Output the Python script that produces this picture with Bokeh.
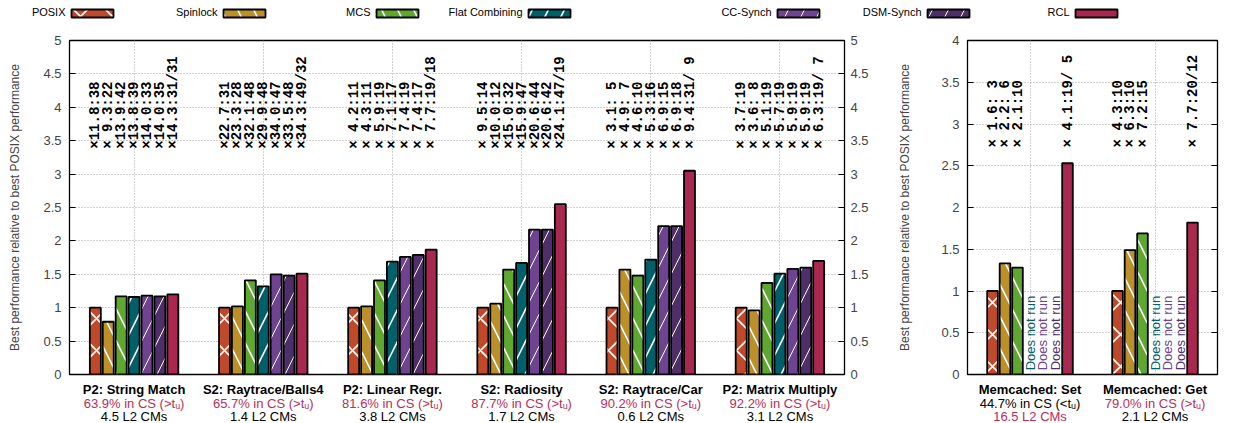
import numpy as np
from bokeh.plotting import figure
from bokeh.models import (Range1d, LinearAxis, FixedTicker, CustomJSTickFormatter)
from bokeh.layouts import column, row
from bokeh.core.properties import value
from bokeh.embed import file_html
from bokeh.resources import INLINE

# ---------------- data ----------------
series = ["POSIX", "Spinlock", "MCS", "Flat Combining", "CC-Synch", "DSM-Synch", "RCL"]
colors = ["#bf4a2b", "#bb8f2a", "#5fa82f", "#00606a", "#6f4391", "#4f2f69", "#a9284f"]
hatches = ["x", "\\", "\\", "/", "/", "/", None]
hatch_w = [1.6, 1.6, 1.6, 1.6, 1.0, 1.0, 0]
CRIMSON = "#b82d5a"

left_groups = ["P2: String Match", "S2: Raytrace/Balls4", "P2: Linear Regr.",
               "S2: Radiosity", "S2: Raytrace/Car", "P2: Matrix Multiply"]
left_cs = ["63.9% in CS (>tᵤ)", "65.7% in CS (>tᵤ)", "81.6% in CS (>tᵤ)",
           "87.7% in CS (>tᵤ)", "90.2% in CS (>tᵤ)", "92.2% in CS (>tᵤ)"]
left_cm = ["4.5 L2 CMs", "1.4 L2 CMs", "3.8 L2 CMs", "1.7 L2 CMs", "0.6 L2 CMs", "3.1 L2 CMs"]
left_cs_color = [CRIMSON] * 6
left_cm_color = ["black"] * 6

posix_l = [1.00, 1.00, 1.00, 1.00, 1.00, 1.00]
spin_l = [0.79, 1.02, 1.02, 1.06, 1.57, 0.96]
mcs_l = [1.17, 1.41, 1.41, 1.57, 1.48, 1.37]
fc_l = [1.16, 1.32, 1.69, 1.67, 1.72, 1.51]
cc_l = [1.18, 1.50, 1.76, 2.17, 2.22, 1.58]
dsm_l = [1.17, 1.48, 1.79, 2.17, 2.22, 1.60]
rcl_l = [1.20, 1.51, 1.87, 2.55, 3.05, 1.70]

ann_posix_l = ["×11.8:38", "×22.7:31", "× 4.2:11", "× 9.5:14", "× 3.1: 5", "× 3.7:19"]
ann_spin_l = ["× 9.3:22", "×23.3:28", "× 4.3:11", "×10.0:12", "× 4.9: 7", "× 3.6: 8"]
ann_mcs_l = ["×13.9:42", "×32.1:48", "× 5.9:19", "×15.0:32", "× 4.6:10", "× 5.1:19"]
ann_fc_l = ["×13.8:39", "×29.9:48", "× 7.1:17", "×15.9:47", "× 5.3:16", "× 5.7:19"]
ann_cc_l = ["×14.0:33", "×34.0:47", "× 7.4:19", "×20.6:44", "× 6.9:15", "× 5.9:19"]
ann_dsm_l = ["×14.0:35", "×33.5:48", "× 7.4:17", "×20.6:42", "× 6.9:18", "× 5.9:19"]
ann_rcl_l = ["×14.3:31/31", "×34.3:49/32", "× 7.7:19/18", "×24.1:47/19", "× 9.4:31/ 9", "× 6.3:19/ 7"]

right_groups = ["Memcached: Set", "Memcached: Get"]
right_cs = ["44.7% in CS (<tᵤ)", "79.0% in CS (>tᵤ)"]
right_cm = ["16.5 L2 CMs", "2.1 L2 CMs"]
right_cs_color = ["black", CRIMSON]
right_cm_color = [CRIMSON, "black"]

posix_r = [1.00, 1.00]
spin_r = [1.33, 1.49]
mcs_r = [1.28, 1.69]
fc_r = [None, None]
cc_r = [None, None]
dsm_r = [None, None]
rcl_r = [2.53, 1.82]

ann_posix_r = ["× 1.6: 3", "× 4.3:10"]
ann_spin_r = ["× 2.2: 6", "× 6.3:10"]
ann_mcs_r = ["× 2.1:10", "× 7.2:15"]
ann_fc_r = [None, None]
ann_cc_r = [None, None]
ann_dsm_r = [None, None]
ann_rcl_r = ["× 4.1:19/ 5", "× 7.7:20/12"]

not_run_text = "Does not run"
y_label = "Best performance relative to best POSIX performance"

left_vals = [posix_l, spin_l, mcs_l, fc_l, cc_l, dsm_l, rcl_l]
left_anns = [ann_posix_l, ann_spin_l, ann_mcs_l, ann_fc_l, ann_cc_l, ann_dsm_l, ann_rcl_l]
right_vals = [posix_r, spin_r, mcs_r, fc_r, cc_r, dsm_r, rcl_r]
right_anns = [ann_posix_r, ann_spin_r, ann_mcs_r, ann_fc_r, ann_cc_r, ann_dsm_r, ann_rcl_r]

# ---------------- style / layout constants ----------------
SANS = "Liberation Sans"
MONO = "Liberation Mono"
PITCH = 0.1
BAR_W = 0.085
GRID_COLOR = "#a0a0a0"
CHART_BOTTOM = 8
CHART_H = 10 + 334 + CHART_BOTTOM
LEG_H = 30
LABEL_H = 423 - LEG_H - CHART_H
LEG_SWATCH_RIGHT = [113, 265, 418, 570, 819, 969, 1117]
LABEL_LINE_Y = [7, 20.5, 33.5]


def make_chart(groups, vals, anns, cs, cs_col, cm, cm_col, ymax, ann_y, width,
               border_left, border_right, right_labels, label_standoff):
    n = len(groups)
    xr = Range1d(-0.5, n - 0.5)
    p = figure(width=width, height=CHART_H, x_range=xr,
               y_range=Range1d(0, ymax), toolbar_location=None, output_backend="svg",
               min_border_left=border_left, min_border_right=border_right,
               min_border_top=10, min_border_bottom=CHART_BOTTOM)
    p.background_fill_color = "white"
    p.border_fill_color = "white"
    p.outline_line_color = "black"
    p.outline_line_width = 1.3
    p.xaxis.visible = False
    ticks = [i * 0.5 for i in range(int(ymax * 2) + 1)]
    fmt = CustomJSTickFormatter(code="return String(Math.round(tick*10)/10);")
    p.xgrid.ticker = FixedTicker(ticks=list(range(n)))
    p.ygrid.ticker = FixedTicker(ticks=ticks)
    for g in (p.xgrid, p.ygrid):
        g.grid_line_color = GRID_COLOR
        g.grid_line_dash = "1 2"
        g.grid_line_width = 1

    ax = p.yaxis[0]
    ax.ticker = FixedTicker(ticks=ticks)
    ax.formatter = fmt
    ax.axis_label = y_label
    ax.axis_label_text_font = SANS
    ax.axis_label_text_font_style = "normal"
    ax.axis_label_text_font_size = "12px"
    ax.axis_label_standoff = label_standoff
    ax.major_label_text_font = SANS
    ax.major_label_text_font_size = "13px"
    ax.major_label_standoff = 8
    ax.major_tick_in = 6
    ax.major_tick_out = 0
    ax.minor_tick_line_color = None
    ax.axis_line_color = "black"

    rfmt = fmt if right_labels else CustomJSTickFormatter(code="return '';")
    rax = LinearAxis(ticker=FixedTicker(ticks=ticks), formatter=rfmt)
    rax.major_tick_in = 6
    rax.major_tick_out = 0
    rax.minor_tick_line_color = None
    rax.axis_line_color = "black"
    rax.major_label_text_font = SANS
    rax.major_label_text_font_size = "13px"
    rax.major_label_standoff = 6
    p.add_layout(rax, "right")

    for i, s in enumerate(series):
        xs, ys, ts = [], [], []
        for g in range(n):
            v = vals[i][g]
            if v is None:
                continue
            xs.append(g + (i - 3) * PITCH)
            ys.append(v)
            ts.append(anns[i][g])
        if not xs:
            nx = [g + (i - 3) * PITCH for g in range(n)]
            p.text(x=nx, y=[0.05] * n, text=[not_run_text] * n, angle=np.pi / 2,
                   text_align="left", text_baseline="middle", text_color=colors[i],
                   text_font=value(SANS), text_font_size="13px")
            continue
        kw = dict(hatch_pattern=hatches[i], hatch_color="white", hatch_weight=hatch_w[i],
                  hatch_scale=32) if hatches[i] else {}
        p.vbar(x=xs, top=ys, bottom=0, width=BAR_W, fill_color=colors[i],
               line_color="black", line_width=1.8, **kw)
        p.text(x=xs, y=[ann_y] * len(xs), text=ts, angle=np.pi / 2, text_align="left",
               text_baseline="middle", text_color="black", text_font=value(MONO),
               text_font_style="bold", text_font_size="14px")

    # category label strip under the chart, sharing the x range
    lab = figure(width=width, height=LABEL_H, x_range=xr, y_range=Range1d(LABEL_H, 0),
                 toolbar_location=None, output_backend="svg", x_axis_type=None,
                 y_axis_type=None, min_border_left=border_left,
                 min_border_right=border_right, min_border_top=0, min_border_bottom=0)
    lab.outline_line_color = None
    lab.grid.visible = False
    gx = list(range(n))
    lines = [(groups, ["black"] * n, "bold"), (cs, cs_col, "normal"), (cm, cm_col, "normal")]
    for (txt, col, style), ly in zip(lines, LABEL_LINE_Y):
        lab.text(x=gx, y=[ly] * n, text=txt, text_color=col, text_align="center",
                 text_baseline="middle", text_font=value(SANS), text_font_size="13px",
                 text_font_style=style)
    return column(p, lab)


left = make_chart(left_groups, left_vals, left_anns, left_cs, left_cs_color, left_cm,
                  left_cm_color, 5, 3.38, 880, 69, 36, True, 18)
right = make_chart(right_groups, right_vals, right_anns, right_cs, right_cs_color, right_cm,
                   right_cm_color, 4, 2.72, 357, 87, 20, False, 26)

# ---------------- legend strip ----------------
leg = figure(width=1237, height=LEG_H, x_range=Range1d(0, 1237), y_range=Range1d(LEG_H, 0),
             toolbar_location=None, output_backend="svg", x_axis_type=None,
             y_axis_type=None, min_border=0)
leg.outline_line_color = None
leg.grid.visible = False
for i, s in enumerate(series):
    r = LEG_SWATCH_RIGHT[i]
    kw = dict(hatch_pattern=hatches[i], hatch_color="white", hatch_weight=hatch_w[i],
              hatch_scale=32) if hatches[i] else {}
    leg.quad(left=[r - 42], right=[r], top=[9], bottom=[17], fill_color=colors[i],
             line_color="black", line_width=1.8, **kw)
    leg.text(x=[r - 48], y=[11.5], text=[s], text_align="right", text_baseline="middle",
             text_font=value(SANS), text_font_size="11px", text_color="black")

layout = column(leg, row(left, right))
open("out.html", "w").write(file_html(layout, INLINE))
